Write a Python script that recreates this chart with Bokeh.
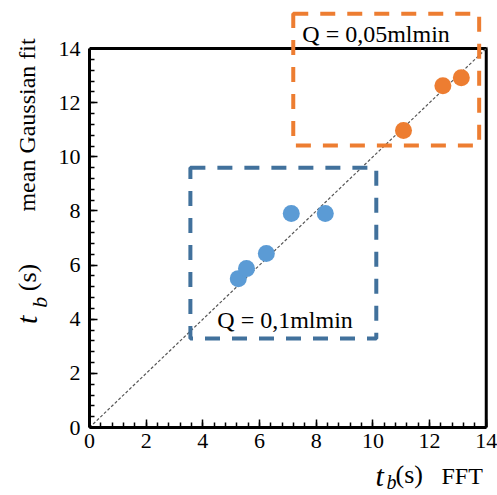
import numpy as np
from bokeh.plotting import figure
from bokeh.layouts import row, column
from bokeh.models import Range1d, FixedTicker
from bokeh.core.properties import value
from bokeh.embed import file_html
from bokeh.resources import INLINE

# ---- data ----
blue_x = [5.25, 5.54, 6.24, 7.12, 8.32]
blue_y = [5.50, 5.87, 6.43, 7.91, 7.91]
orange_x = [11.08, 12.47, 13.12]
orange_y = [10.97, 12.63, 12.92]
major_ticks = [0, 2, 4, 6, 8, 10, 12, 14]
tick_labels = ["0", "2", "4", "6", "8", "10", "12", "14"]
blue_box = [3.56, 10.12, 3.29, 9.60]      # left, right, bottom, top
orange_box = [7.19, 13.75, 10.42, 15.29]
blue_label = "Q    = 0,1mlmin"
orange_label = "Q    = 0,05mlmin"
AX_MAX = 14

SERIF = "Liberation Serif"
BLUE = "#5B9BD5"
ORANGE = "#ED7D31"
BLUE_BOX = "#41719C"

W, H = 497, 495
LW = 52          # left label strip width
MH = 458         # main figure height
BH = H - MH      # bottom label strip height

p = figure(width=W - LW, height=MH, output_backend="svg", toolbar_location=None,
           x_range=Range1d(0, 14.15), y_range=Range1d(0, 15.48),
           min_border_left=89 - LW, min_border_right=7, min_border_top=8,
           min_border_bottom=MH - 427)
p.outline_line_color = None
p.xgrid.visible = False
p.ygrid.visible = False

minor = list(np.round(np.arange(0, AX_MAX + 0.001, 0.4), 2))
for ax in (p.xaxis[0], p.yaxis[0]):
    ax.ticker = FixedTicker(ticks=major_ticks, minor_ticks=minor)
    ax.major_label_overrides = {t: l for t, l in zip(major_ticks, tick_labels)}
    ax.bounds = (0, AX_MAX)
    ax.axis_line_width = 3
    ax.axis_line_color = "black"
    ax.major_tick_in = 8
    ax.major_tick_out = 0
    ax.minor_tick_in = 5
    ax.minor_tick_out = 0
    ax.major_tick_line_width = 1.5
    ax.minor_tick_line_width = 1.5
    ax.major_label_text_font = SERIF
    ax.major_label_text_font_size = "22px"
    ax.major_label_text_color = "black"
p.xaxis[0].major_label_standoff = 6
p.yaxis[0].major_label_standoff = 9

# top and right frame lines
p.line([0, AX_MAX, AX_MAX], [AX_MAX, AX_MAX, 0], line_color="black", line_width=3)

# y = x reference line
p.line([0, AX_MAX + 0.05], [0, AX_MAX + 0.05], line_color="#555555", line_width=1.2, line_dash="3 2")

# group boxes
p.quad(left=[blue_box[0]], right=[blue_box[1]], bottom=[blue_box[2]], top=[blue_box[3]],
       fill_color=None, line_color=BLUE_BOX, line_width=4, line_dash="15 12")
p.quad(left=[orange_box[0]], right=[orange_box[1]], bottom=[orange_box[2]], top=[orange_box[3]],
       fill_color=None, line_color=ORANGE, line_width=4, line_dash="15 12")

p.scatter(blue_x, blue_y, size=17, fill_color=BLUE, line_color=None)
p.scatter(orange_x, orange_y, size=17, fill_color=ORANGE, line_color=None)

p.text(x=[4.51], y=[3.96], text=[blue_label], text_font=value(SERIF), text_font_size="24px",
       text_color="black", text_baseline="alphabetic")
p.text(x=[7.51], y=[14.55], text=[orange_label], text_font=value(SERIF), text_font_size="24px",
       text_color="black", text_baseline="alphabetic")


def strip(width, height, x0, y0):
    f = figure(width=width, height=height, output_backend="svg", toolbar_location=None,
               x_range=Range1d(x0, x0 + width), y_range=Range1d(y0 + height, y0),
               x_axis_type=None, y_axis_type=None,
               min_border_left=0, min_border_right=0, min_border_top=0, min_border_bottom=0)
    f.outline_line_color = None
    f.xgrid.visible = False
    f.ygrid.visible = False
    return f


def put(f, x, y, text, size, style="normal", angle=0.0):
    f.text(x=[x], y=[y], text=[text], text_font=value(SERIF), text_font_size=size,
           text_font_style=style, angle=angle, text_baseline="alphabetic",
           text_align="left", text_color="black")


# y-axis label (rotated), in page pixel coordinates
L = strip(LW, MH, 0, 0)
A = np.pi / 2
put(L, 26, 345, "t", "30px", "italic", A)
put(L, 39, 327, "b", "22px", "italic", A)
put(L, 27, 309, "(s)", "26px", angle=A)
put(L, 26, 222, "mean Gaussian fit", "24px", angle=A)

# x-axis label, in page pixel coordinates
B = strip(W, BH, 0, MH)
put(B, 375, 475, "t", "30px", "italic")
put(B, 386, 481, "b", "20px", "italic")
put(B, 395, 474, "(s)", "26px")
put(B, 441, 475, "FFT", "24px")

layout = column(row(L, p, spacing=0), B, spacing=0)
open("out.html", "w").write(file_html(layout, INLINE))
